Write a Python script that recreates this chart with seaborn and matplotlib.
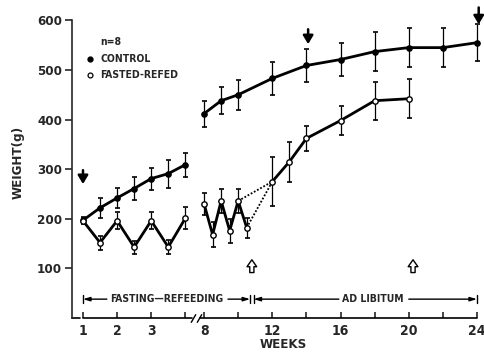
import numpy as np
import pandas as pd
import matplotlib
matplotlib.use("Agg")
import matplotlib.pyplot as plt
import seaborn as sns

# ---- data (weeks, mean weight in g, SD) ----
weeks_ctrl_a = [1, 1.5, 2, 2.5, 3, 3.5, 4]
ctrl_a = [197, 222, 242, 261, 281, 291, 309]
ctrl_a_sd = [6, 20, 21, 23, 22, 28, 24]

weeks_ctrl_b = [8, 9, 10, 12, 14, 16, 18, 20, 22, 24]
ctrl_b = [412, 438, 450, 483, 509, 521, 537, 545, 545, 555]
ctrl_b_sd = [26, 27, 30, 34, 34, 34, 39, 39, 39, 37]

weeks_fr_a = [1, 1.5, 2, 2.5, 3, 3.5, 4]
fr_a = [196, 152, 196, 143, 196, 143, 201]
fr_a_sd = [6, 14, 17, 13, 17, 15, 22]

weeks_fr_b = [8, 8.5, 9, 9.5, 10, 10.5]
fr_b = [230, 168, 236, 176, 236, 182]
fr_b_sd = [22, 25, 25, 24, 25, 20]

weeks_fr_c = [12, 13, 14, 16, 18, 20]
fr_c = [275, 315, 362, 398, 438, 442]
fr_c_sd = [50, 40, 25, 29, 38, 39]

x_ticks = [1, 2, 3, 4, 8, 10, 12, 14, 16, 18, 20, 22, 24]
x_labels = ['1', '2', '3', '', '8', '', '12', '', '16', '', '20', '', '24']
y_ticks = [100, 200, 300, 400, 500, 600]


# broken week axis: weeks 1-4 full width, 4-8 squeezed, 8-24 half width
def fwd(w):
    w = np.asarray(w, dtype=float)
    return np.where(w <= 4, w, np.where(w < 8, 4 + (w - 4) * 0.55 / 4, 4.55 + (w - 8) / 2))


def inv(t):
    t = np.asarray(t, dtype=float)
    return np.where(t <= 4, t, np.where(t < 4.55, 4 + (t - 4) * 4 / 0.55, 8 + (t - 4.55) * 2))


sns.set_style("ticks")
plt.rcParams['font.family'] = ['DejaVu Sans']
plt.rcParams['font.weight'] = 'bold'
plt.rcParams['font.stretch'] = 'condensed'

fig = plt.figure(figsize=(4.85, 3.58), dpi=100)
ax = fig.add_axes([72 / 485, 40 / 358, 413 / 485, 318 / 358])
ax.set_xscale('function', functions=(fwd, inv))

lw = 2.0
err_kw = dict(fmt='none', ecolor='black', elinewidth=0.9, capsize=1.8, capthick=1.2, zorder=2)

# control
for wk, m, sd in [(weeks_ctrl_a, ctrl_a, ctrl_a_sd), (weeks_ctrl_b, ctrl_b, ctrl_b_sd)]:
    ax.errorbar(wk, m, yerr=sd, **err_kw)
    sns.lineplot(x=wk, y=m, ax=ax, color='black', lw=lw, marker='o', markersize=4,
                 markerfacecolor='black', markeredgecolor='black', estimator=None, zorder=3)

# fasted-refed
for wk, m, sd in [(weeks_fr_a, fr_a, fr_a_sd), (weeks_fr_b, fr_b, fr_b_sd), (weeks_fr_c, fr_c, fr_c_sd)]:
    ax.errorbar(wk, m, yerr=sd, **err_kw)
    sns.lineplot(x=wk, y=m, ax=ax, color='black', lw=lw, estimator=None, zorder=3)

# dotted transition from last refeed / fast to week 12
for i in (-2, -1):
    sns.lineplot(x=[weeks_fr_b[i], weeks_fr_c[0]], y=[fr_b[i], fr_c[0]], ax=ax, color='black',
                 lw=1.3, linestyle=(0, (1, 1)), estimator=None, zorder=3)

fr_all = pd.DataFrame({'week': weeks_fr_a + weeks_fr_b + weeks_fr_c, 'w': fr_a + fr_b + fr_c})
sns.scatterplot(data=fr_all, x='week', y='w', ax=ax, marker='o', s=15, facecolor='white',
                edgecolor='black', linewidth=1.0, zorder=4)

ax.set_xlim(0.678, 24.47)
ax.set_ylim(0, 641)
ax.set_xticks(x_ticks)
ax.set_xticklabels(x_labels)
ax.xaxis.set_minor_locator(matplotlib.ticker.NullLocator())
ax.set_yticks(y_ticks)
ax.set_xlabel('')
ax.set_ylabel('')
ax.tick_params(axis='x', direction='in', length=4, width=1.2, pad=4, labelsize=10)
ax.tick_params(axis='y', direction='out', length=5, width=1.2, pad=2, labelsize=9.5)

sns.despine(ax=ax)
ax.spines['bottom'].set_visible(False)
ax.spines['left'].set_bounds(0, 600)
ax.spines['left'].set_linewidth(1.2)

# broken x axis line
xt = ax.get_xaxis_transform()
ax.plot([1, 5.4], [0, 0], color='black', lw=1.2, transform=xt, clip_on=False)
ax.plot([7.2, 24], [0, 0], color='black', lw=1.2, transform=xt, clip_on=False)
for xb in (5.64, 6.9):
    ax.plot([xb], [0], transform=xt, marker=(2, 0, -30), markersize=7, color='black',
            mew=1.0, clip_on=False)
ax.plot([0, 8 / 413], [0, 0], color='black', lw=1.2, transform=ax.transAxes, clip_on=False)

# labels
fig.text(18 / 485, 1 - 162 / 358, 'WEIGHT(g)', rotation=90, ha='center', va='center', fontsize=9.5)
fig.text(283 / 485, 1 - 344 / 358, 'WEEKS', ha='center', va='center', fontsize=9.5)

# legend
ax.text(0.068, 0.868, 'n=8', transform=ax.transAxes, fontsize=7.5, va='center')
ax.plot([0.0436], [0.814], 'o', color='black', markersize=3.5, transform=ax.transAxes)
ax.text(0.068, 0.814, 'CONTROL', transform=ax.transAxes, fontsize=7.5, va='center')
ax.plot([0.0436], [0.764], 'o', mfc='white', mec='black', mew=0.9, markersize=3.5, transform=ax.transAxes)
ax.text(0.068, 0.764, 'FASTED-REFED', transform=ax.transAxes, fontsize=7.5, va='center')

# filled arrows (down)
for w, y0, y1 in [(1.0, 298, 270), (14.1, 582, 552), (24.1, 626, 592)]:
    ax.annotate('', xy=(w, y1), xytext=(w, y0), annotation_clip=False,
                arrowprops=dict(arrowstyle='-|>,head_width=0.3,head_length=0.5', color='black',
                                lw=1.8, shrinkA=0, shrinkB=0, mutation_scale=10))

# open arrows (up)
for w in (10.8, 20.25):
    ax.annotate('', xy=(w, 123), xytext=(w, 86),
                arrowprops=dict(arrowstyle='simple,head_width=0.7,head_length=0.5,tail_width=0.3',
                                fc='white', ec='black', lw=1.0))

# period bars
yb = 38
ap = dict(arrowstyle='-|>,head_width=0.12,head_length=0.4', color='black', lw=1.0, shrinkA=0, shrinkB=0)
ax.annotate('', xy=(1, yb), xytext=(1.7, yb), arrowprops=ap)
ax.annotate('', xy=(10.7, yb), xytext=(9.4, yb), arrowprops=ap)
ax.annotate('', xy=(10.9, yb), xytext=(15.9, yb), arrowprops=ap)
ax.annotate('', xy=(24, yb), xytext=(20.0, yb), arrowprops=ap)
for w in (1, 10.7, 10.9, 24):
    ax.plot([w, w], [yb - 8, yb + 8], color='black', lw=1.0)
ax.text(3.46, yb, 'FASTING\u2014REFEEDING', ha='center', va='center', fontsize=7.5)
ax.text(17.9, yb, 'AD LIBITUM', ha='center', va='center', fontsize=7.5)

fig.savefig('out.png', dpi=100)
